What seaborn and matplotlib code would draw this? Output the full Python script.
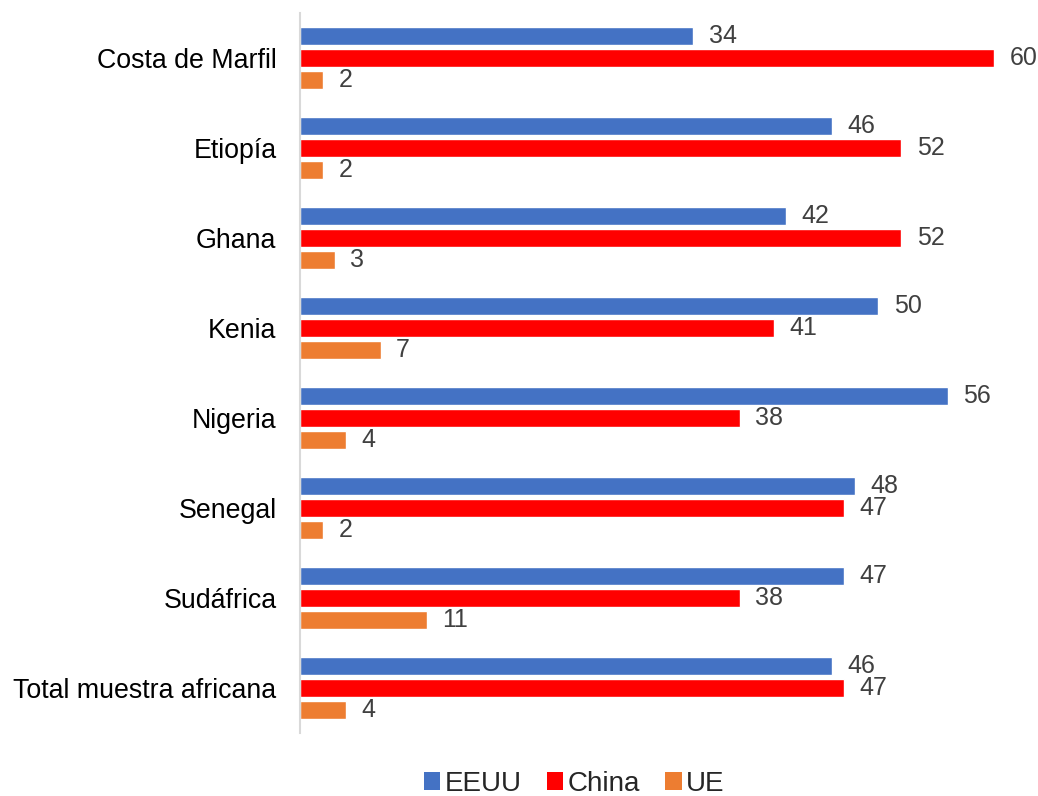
import matplotlib
matplotlib.use("Agg")
import matplotlib.pyplot as plt
from matplotlib.patches import Patch
import seaborn as sns
import pandas as pd

categories = ["Costa de Marfil", "Etiopía", "Ghana", "Kenia", "Nigeria",
              "Senegal", "Sudáfrica", "Total muestra africana"]
eeuu = [34, 46, 42, 50, 56, 48, 47, 46]
china = [60, 52, 52, 41, 38, 47, 38, 47]
ue = [2, 2, 3, 7, 4, 2, 11, 4]
series = ["EEUU", "China", "UE"]
colors = ["#4472C4", "#FF0000", "#ED7D31"]

rows = []
for name, vals in zip(series, [eeuu, china, ue]):
    for c, v in zip(categories, vals):
        rows.append({"cat": c, "serie": name, "val": v})
df = pd.DataFrame(rows)

sns.set_theme(style="white")
plt.rcParams["font.family"] = ["Liberation Sans", "DejaVu Sans"]

fig = plt.figure(figsize=(10.38, 7.96), dpi=100)
ax = fig.add_axes([300 / 1038, 1 - 733 / 796, (994 - 300) / 1038, (733 - 13) / 796])

sns.barplot(data=df, y="cat", x="val", hue="serie", order=categories,
            hue_order=series, palette=colors, orient="h", width=0.733,
            gap=0.2, saturation=1, legend=False, ax=ax, errorbar=None)

for cont in ax.containers:
    ax.bar_label(cont, fmt="%d", padding=11, fontsize=18, color="#404040",
                 clip_on=False)

ax.set_xlim(0, 60)
ax.set_ylim(len(categories) - 0.5, -0.5)
ax.set_xlabel("")
ax.set_ylabel("")
ax.set_xticks([])
ax.tick_params(axis="y", length=0, labelsize=19.3, pad=17, labelcolor="#000000")
for s in ["top", "right", "bottom"]:
    ax.spines[s].set_visible(False)
ax.spines["left"].set_color("#d9d9d9")
ax.spines["left"].set_linewidth(1.5)

handles = [Patch(facecolor=c, edgecolor="none", label=s) for s, c in zip(series, colors)]
fig.legend(handles=handles, loc="center", bbox_to_anchor=(574 / 1038, 1 - 784 / 796),
           ncol=3, frameon=False, fontsize=20, handlelength=0.6, handleheight=0.6,
           handletextpad=0.15, columnspacing=0.9)

fig.savefig("out.png", dpi=100)
